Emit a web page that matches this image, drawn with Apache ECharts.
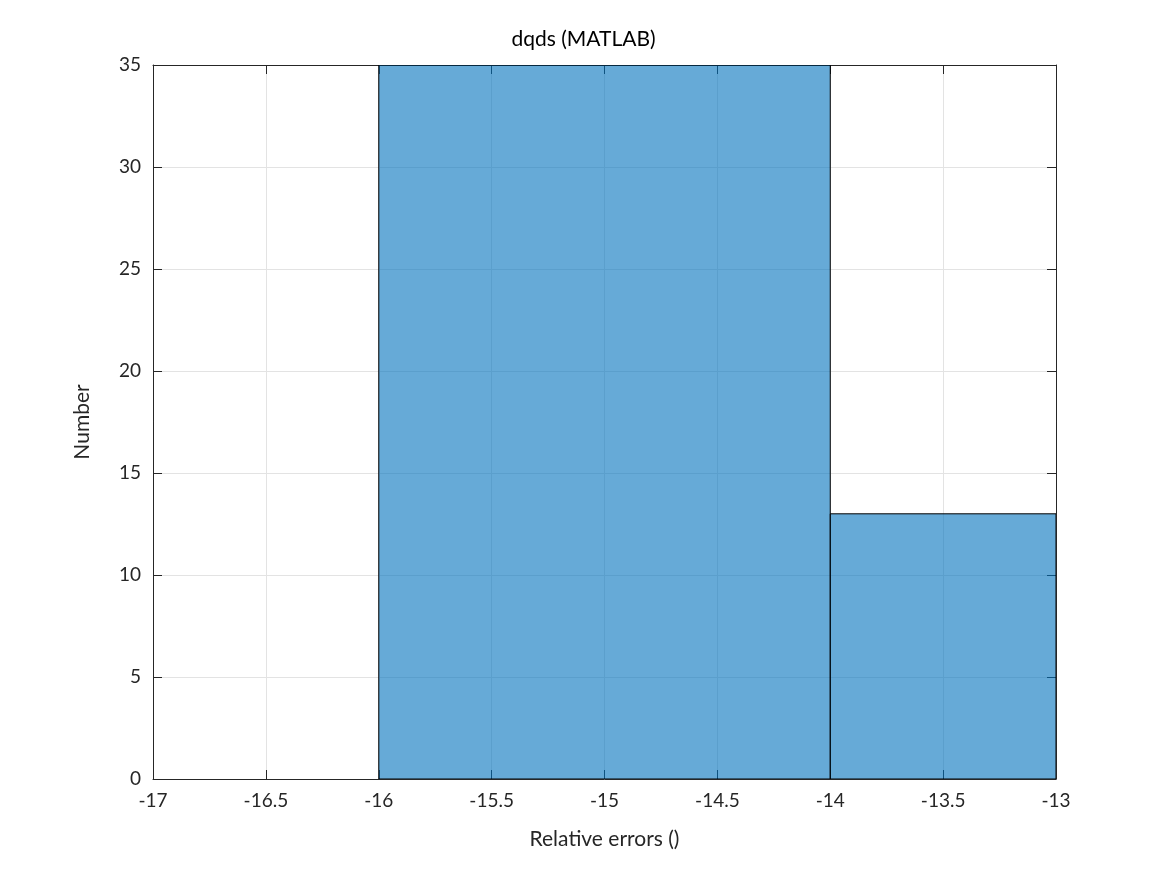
<!DOCTYPE html>
<html><head><meta charset="utf-8">
<script src="https://cdn.jsdelivr.net/npm/echarts@6/dist/echarts.min.js"></script>
<style>html,body{margin:0;padding:0;background:#fff}#c{width:1167px;height:875px}</style>
</head><body><div id="c"></div>
<script>
const binEdges = [-16, -14, -12];
const binCounts = [35, 13];
const xTicks = [-17, -16.5, -16, -15.5, -15, -14.5, -14, -13.5, -13];
const yTicks = [0, 5, 10, 15, 20, 25, 30, 35];

const data = binCounts.map((c, i) => [binEdges[i], binEdges[i + 1], c]);
const font = 'Lato, "Open Sans", sans-serif';
const chart = echarts.init(document.getElementById('c'));
const axisCommon = {
  axisLine: { show: true, onZero: false, lineStyle: { color: '#262626', width: 1 } },
  axisTick: { show: true, inside: true, length: 9, lineStyle: { color: '#262626' } },
};
chart.setOption({
  animation: false,
  title: { text: 'dqds (MATLAB)', left: 'center', top: 24, textStyle: { fontFamily: font, fontSize: 21, fontWeight: 'normal', color: '#000' } },
  grid: { left: 153, right: 111, top: 65, bottom: 96 },
  xAxis: [
    Object.assign({ type: 'value', min: -17, max: -13, interval: 0.5, position: 'bottom',
      name: 'Relative errors ()', nameLocation: 'middle', nameGap: 50,
      nameTextStyle: { fontFamily: font, fontSize: 21, color: '#262626' },
      axisLabel: { fontFamily: font, fontSize: 19, color: '#262626', margin: 12, formatter: v => String(v) },
      splitLine: { show: true, lineStyle: { color: '#e3e3e3' } } }, axisCommon),
    Object.assign({ type: 'value', min: -17, max: -13, interval: 0.5, position: 'top',
      axisLabel: { show: false }, splitLine: { show: false } }, axisCommon)
  ],
  yAxis: [
    Object.assign({ type: 'value', min: 0, max: 35, interval: 5, position: 'left',
      name: 'Number', nameLocation: 'middle', nameGap: 60,
      nameTextStyle: { fontFamily: font, fontSize: 21, color: '#262626' },
      axisLabel: { fontFamily: font, fontSize: 19, color: '#262626', margin: 12 },
      splitLine: { show: true, lineStyle: { color: '#e3e3e3' } } }, axisCommon),
    Object.assign({ type: 'value', min: 0, max: 35, interval: 5, position: 'right',
      axisLabel: { show: false }, splitLine: { show: false } }, axisCommon)
  ],
  series: [{
    type: 'custom', clip: true, data: data, encode: { x: [0, 1], y: 2 },
    renderItem: function (params, api) {
      const p0 = api.coord([api.value(0), 0]);
      const p1 = api.coord([api.value(1), api.value(2)]);
      const rect = echarts.graphic.clipRectByRect(
        { x: p0[0], y: p1[1], width: p1[0] - p0[0], height: p0[1] - p1[1] },
        { x: params.coordSys.x, y: params.coordSys.y, width: params.coordSys.width, height: params.coordSys.height });
      return rect && { type: 'rect', shape: rect,
        style: { fill: 'rgba(0,114,189,0.6)', stroke: '#000', lineWidth: 1 } };
    }
  }]
});
</script></body></html>
